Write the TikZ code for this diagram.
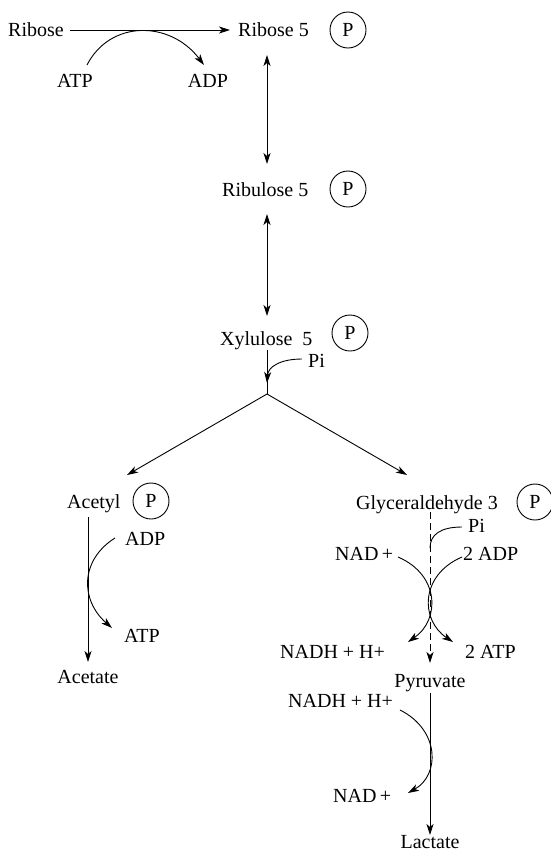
\documentclass[tikz,border=0pt]{standalone}
\usepackage{fontspec}
\setmainfont{Liberation Serif}
\usetikzlibrary{arrows.meta}
\begin{document}
\begin{tikzpicture}[x=1pt,y=-1pt,
  every node/.style={font=\fontsize{20}{24}\selectfont, inner sep=0pt},
  lbl/.style={anchor=base west},
  clbl/.style={anchor=base},
  phos/.style={circle, draw, line width=0.9pt, minimum size=36pt, anchor=center},
  tip/.tip={Stealth[length=11pt,width=7pt,inset=3pt]},
  flow/.style={line width=0.9pt, -tip},
  both/.style={line width=0.9pt, tip-tip},
  plain/.style={line width=0.9pt}]
\useasboundingbox (0,0) rectangle (551,852);

% top: ribose phosphorylation
\node[lbl] (rib) at (8,36) {Ribose};
\node[lbl] (rib5) at (238,36) {Ribose 5};
\node[phos] (p1) at (348,30) {P};
\node[clbl] (atp1) at (75,87) {ATP};
\node[clbl] (adp1) at (208,87) {ADP};
\coordinate (r0) at (70,30);
\coordinate (r1) at (230,30);
\draw[flow] (r0) -- (r1);
\coordinate (a1s) at (87,65);
\coordinate (a1e) at (204,65);
\draw[flow] (a1s) .. controls (110,20) and (170,20) .. (a1e);

% isomerisation steps
\node[lbl] (rbl5) at (222,196) {Ribulose 5};
\node[phos] (p2) at (348,189) {P};
\node[lbl] (xyl5) at (220,345) {Xylulose\ \ 5};
\node[phos] (p3) at (350,333) {P};
\coordinate (v1a) at (267,55);
\coordinate (v1b) at (267,164);
\coordinate (v2a) at (267,214);
\coordinate (v2b) at (267,316);
\draw[both] (v1a) -- (v1b);
\draw[both] (v2a) -- (v2b);

% phosphoketolase split
\node[lbl] (pi1) at (308,367) {Pi};
\coordinate (xtop) at (267,350);
\coordinate (br) at (267,394);
\draw[plain] (xtop) -- (br);
\coordinate (pi1s) at (302,359);
\coordinate (pi1e) at (267,383);
\draw[flow] (pi1s) .. controls (280,359) and (268,367) .. (pi1e);
\coordinate (ac0) at (127,475);
\coordinate (gl0) at (407,475);
\draw[flow] (br) -- (ac0);
\draw[flow] (br) -- (gl0);

% acetyl branch
\node[lbl] (acp) at (67,508) {Acetyl};
\node[phos] (p4) at (151,501) {P};
\node[lbl] (adp2) at (125,545) {ADP};
\node[lbl] (atp2) at (124,642) {ATP};
\node[clbl] (acet) at (88,683) {Acetate};
\coordinate (acs) at (88,517);
\coordinate (ace) at (88,662);
\draw[flow] (acs) -- (ace);
\coordinate (k1s) at (115,538);
\coordinate (k1e) at (112,628);
\draw[flow] (k1s) .. controls (80,560) and (80,600) .. (k1e);

% glyceraldehyde branch
\node[lbl] (g3p) at (356,509) {Glyceraldehyde 3};
\node[phos] (p5) at (535,502) {P};
\node[lbl] (pi2) at (468,532) {Pi};
\node[lbl] (nad1) at (335,560) {NAD\,+};
\node[lbl] (adp3) at (463,560) {2 ADP};
\node[lbl] (nadh1) at (280,658) {NADH + H+};
\node[lbl] (atp3) at (465,658) {2 ATP};
\node[clbl] (pyr) at (430,687) {Pyruvate};
\coordinate (gs) at (430,512);
\coordinate (ge) at (430,663);
\draw[line width=0.9pt, dash pattern=on 7pt off 4pt, -tip] (gs) -- (ge);
\coordinate (pi2s) at (462,527);
\coordinate (pi2e) at (430,548);
\draw[plain] (pi2s) .. controls (440,527) and (430,535) .. (pi2e);
\coordinate (n1s) at (398,557);
\coordinate (n1e) at (408,642);
\draw[flow] (n1s) .. controls (440,575) and (440,620) .. (n1e);
\coordinate (d1s) at (462,557);
\coordinate (d1e) at (453,642);
\draw[flow] (d1s) .. controls (420,575) and (420,620) .. (d1e);

% lactate step
\node[lbl] (nadh2) at (288,707) {NADH + H+};
\node[lbl] (nad2) at (333,802) {NAD\,+};
\node[clbl] (lac) at (430,848) {Lactate};
\coordinate (ps) at (430,693);
\coordinate (pe) at (430,835);
\draw[flow] (ps) -- (pe);
\coordinate (n2s) at (400,710);
\coordinate (n2e) at (408,793);
\draw[flow] (n2s) .. controls (440,730) and (440,775) .. (n2e);
\end{tikzpicture}
\end{document}
